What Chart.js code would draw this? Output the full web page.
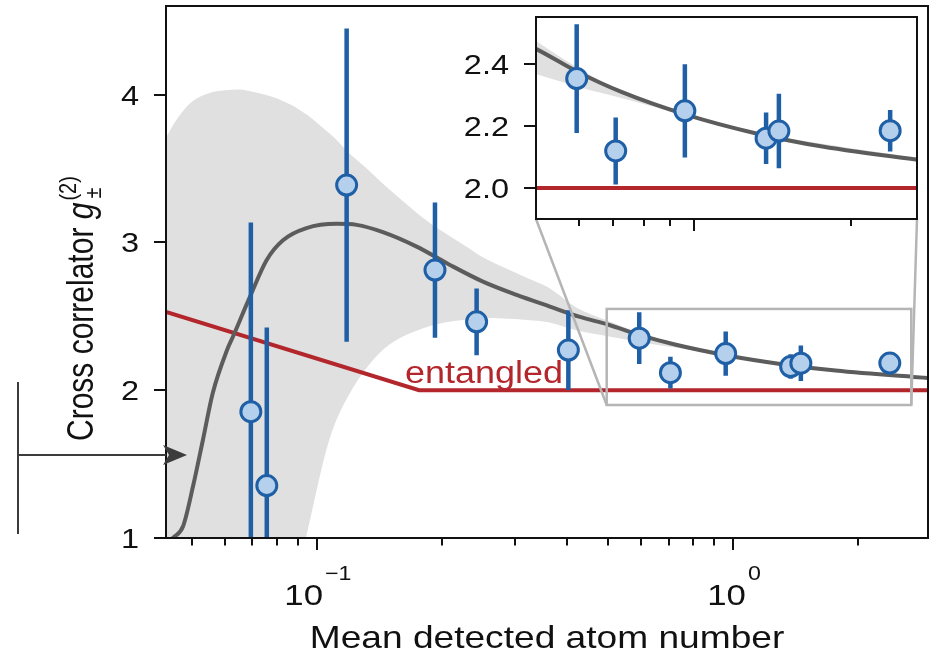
<!DOCTYPE html>
<html>
<head>
<meta charset="utf-8">
<script src="https://cdn.jsdelivr.net/npm/chart.js@4.4.1/dist/chart.umd.min.js"></script>
<style>
  html, body { margin: 0; padding: 0; background: #fff; }
  #wrap { position: relative; width: 936px; height: 658px; overflow: hidden; }
  #main { position: absolute; left: 0; top: 0; width: 936px; height: 658px; }
  #inset { position: absolute; left: 440px; top: 0; width: 490px; height: 240px; }
</style>
</head>
<body>
<div id="wrap">
  <canvas id="main" width="936" height="658"></canvas>
  <canvas id="inset" width="490" height="240"></canvas>
</div>
<script>
// ---------- measured data ----------
const atomNumber   = [0.0694, 0.0758, 0.1179, 0.1922, 0.242, 0.402, 0.595, 0.707, 0.96, 1.375, 1.455, 2.38];
const crossCorr    = [1.855, 1.355, 3.388, 2.813, 2.463, 2.272, 2.352, 2.119, 2.248, 2.16, 2.183, 2.184];
const crossCorrErr = [1.28, 1.07, 1.06, 0.458, 0.226, 0.27, 0.175, 0.108, 0.15, 0.083, 0.12, 0.067];

// ---------- model curve ----------
const theoryX = [0.0434, 0.0455, 0.0477, 0.0504, 0.0532, 0.0562, 0.0608, 0.0628, 0.069, 0.0757, 0.0829, 0.0944,
                 0.1115, 0.1246, 0.1441, 0.1737, 0.2088, 0.2506, 0.302, 0.363, 0.4286, 0.5, 0.598, 0.725,
                 0.968, 1.311, 1.763, 2.71, 2.94];
const theoryY = [0.97, 1.01, 1.08, 1.35, 1.66, 1.98, 2.27, 2.36, 2.63, 2.88, 3.015, 3.097,
                 3.126, 3.119, 3.07, 2.972, 2.848, 2.735, 2.645, 2.566, 2.496, 2.445, 2.373, 2.309,
                 2.235, 2.176, 2.133, 2.09, 2.083];

// ---------- model uncertainty band ----------
const bandX     = [0.0434, 0.046, 0.05, 0.055, 0.06, 0.065, 0.07, 0.08, 0.09, 0.095, 0.1, 0.105, 0.11, 0.12, 0.13,
                   0.145, 0.16, 0.18, 0.2, 0.225, 0.25, 0.28, 0.32, 0.36, 0.42, 0.5, 0.6, 0.75, 1.0, 1.4, 2.0, 2.94];
const bandUpper = [3.71, 3.83, 3.95, 4.01, 4.03, 4.035, 4.02, 3.975, 3.905, 3.86, 3.81, 3.76, 3.71, 3.60, 3.515,
                   3.39, 3.286, 3.166, 3.076, 2.985, 2.902, 2.833, 2.76, 2.695, 2.56, 2.47, 2.385, 2.298, 2.232, 2.17, 2.128, 2.088];
const bandLower = [-1.0, -1.0, -0.8, -0.6, -0.4, -0.2, 0.0, 0.3, 0.78, 1.05, 1.33, 1.58, 1.76, 1.98, 2.13,
                   2.28, 2.36, 2.42, 2.455, 2.475, 2.488, 2.485, 2.476, 2.46, 2.405, 2.365, 2.325, 2.283, 2.225, 2.165, 2.124, 2.082];

// ---------- entanglement bound ----------
const boundX = [0.0434, 0.176, 2.94];
const boundY = [2.53, 2.0, 2.0];
const boundLabel = 'entangled';
const boundLabelAt = [0.252, 2.0];

// ---------- axes ----------
const xRange = [0.0434, 2.94];
const yRange = [1, 4.6];
const yTicks = [1, 2, 3, 4];
const xMajorTicks = [0.1, 1];
const xMajorExponents = ['\u22121', '0'];
const xMinorTicks = [0.05, 0.06, 0.07, 0.08, 0.09, 0.2, 0.3, 0.4, 0.5, 0.6, 0.7, 0.8, 0.9, 2];
const xTitle = 'Mean detected atom number';
const arrowLevel = 1.56;

// ---------- zoomed inset ----------
const insetXRange = [0.497, 2.68];
const insetYRange = [1.9, 2.55];
const insetYTicks = [2.0, 2.2, 2.4];
const insetXMajorTicks = [1];
const insetXMinorTicks = [0.6, 0.7, 0.8, 0.9, 2];

// ---------- styling ----------
const FONT = '"Liberation Sans", Arial, Helvetica, sans-serif';
const TEXT_SX = 1.16;
const BLUE = '#1f5fa6';
const BLUE_FILL = '#b4d0ec';
const RED = '#b3262c';
const CURVE = '#5c5c5c';
const BAND = '#e0e0e0';
const INSET_LEFT = 440, INSET_TOP = 0;

const pts = (xs, ys) => xs.map((x, i) => ({ x, y: ys[i] }));
function errorSegments() {
  const out = [];
  atomNumber.forEach((x, i) => {
    out.push({ x, y: crossCorr[i] - crossCorrErr[i] });
    out.push({ x, y: crossCorr[i] + crossCorrErr[i] });
    out.push({ x, y: null });
  });
  return out;
}

function buildDatasets() {
  // first dataset is drawn on top
  return [
    { data: pts(atomNumber, crossCorr), showLine: false, pointRadius: 10, pointBorderWidth: 3,
      pointBackgroundColor: BLUE_FILL, pointBorderColor: BLUE, pointHoverRadius: 10 },
    { data: errorSegments(), borderColor: BLUE, borderWidth: 4.5, pointRadius: 0, spanGaps: false,
      borderCapStyle: 'butt', tension: 0 },
    { data: pts(theoryX, theoryY), borderColor: CURVE, borderWidth: 4, pointRadius: 0,
      cubicInterpolationMode: 'monotone' },
    { data: pts(boundX, boundY), borderColor: RED, borderWidth: 4, pointRadius: 0, tension: 0 },
    { data: pts(bandX, bandUpper), borderWidth: 0, borderColor: 'rgba(0,0,0,0)', pointRadius: 0,
      fill: '+1', backgroundColor: BAND, cubicInterpolationMode: 'monotone' },
    { data: pts(bandX, bandLower), borderWidth: 0, borderColor: 'rgba(0,0,0,0)', pointRadius: 0,
      fill: false, cubicInterpolationMode: 'monotone' }
  ];
}

function sText(ctx, str, x, y, size, align, color) {
  ctx.save();
  ctx.font = `${size}px ${FONT}`;
  ctx.fillStyle = color || '#111';
  ctx.textBaseline = 'alphabetic';
  ctx.textAlign = 'left';
  const w = ctx.measureText(str).width * TEXT_SX;
  let x0 = x;
  if (align === 'center') x0 = x - w / 2;
  else if (align === 'right') x0 = x - w;
  ctx.translate(x0, y);
  ctx.scale(TEXT_SX, 1);
  ctx.fillText(str, 0, 0);
  ctx.restore();
  return w;
}
function textWidth(ctx, str, size) {
  ctx.save();
  ctx.font = `${size}px ${FONT}`;
  const w = ctx.measureText(str).width * TEXT_SX;
  ctx.restore();
  return w;
}

function baseOptions(pad, xr, yr, xh, yw) {
  return {
    responsive: false, animation: false, devicePixelRatio: 1, events: [],
    layout: { padding: pad, autoPadding: false },
    plugins: { legend: { display: false }, tooltip: { enabled: false } },
    scales: {
      x: { type: 'logarithmic', min: xr[0], max: xr[1],
           ticks: { display: false }, grid: { display: false }, border: { display: false },
           afterFit: s => { s.height = xh; } },
      y: { type: 'linear', min: yr[0], max: yr[1],
           ticks: { display: false }, grid: { display: false }, border: { display: false },
           afterFit: s => { s.width = yw; } }
    }
  };
}

// ---------- inset chart ----------
const insetDecor = {
  id: 'insetDecor',
  beforeDraw(chart) {
    const { ctx, chartArea: a } = chart;
    ctx.save();
    ctx.fillStyle = '#fff';
    ctx.fillRect(a.left, a.top, a.width, a.height);
    ctx.restore();
  },
  afterDraw(chart) {
    const { ctx, chartArea: a, scales: { x, y } } = chart;
    ctx.save();
    ctx.strokeStyle = '#111';
    ctx.lineWidth = 2;
    ctx.strokeRect(a.left, a.top, a.width, a.height);
    ctx.beginPath();
    insetYTicks.forEach(v => {
      const py = Math.round(y.getPixelForValue(v));
      ctx.moveTo(a.left - 12, py); ctx.lineTo(a.left, py);
    });
    insetXMajorTicks.forEach(v => {
      const px = Math.round(x.getPixelForValue(v));
      ctx.moveTo(px, a.bottom); ctx.lineTo(px, a.bottom + 12);
    });
    insetXMinorTicks.forEach(v => {
      const px = Math.round(x.getPixelForValue(v));
      ctx.moveTo(px, a.bottom); ctx.lineTo(px, a.bottom + 7);
    });
    ctx.stroke();
    insetYTicks.forEach(v => {
      const py = y.getPixelForValue(v);
      sText(ctx, v.toFixed(1), a.left - 27, py + 10, 28, 'right');
    });
    ctx.restore();
  }
};

const insetChart = new Chart(document.getElementById('inset'), {
  type: 'line',
  data: { datasets: buildDatasets() },
  options: baseOptions({ left: 0, top: 17, right: 13, bottom: 0 }, insetXRange, insetYRange, 21, 96),
  plugins: [insetDecor]
});

// ---------- main chart ----------
function drawYTitle(ctx, px, py) {
  ctx.save();
  ctx.translate(px, py);
  ctx.scale(1.2, 1);
  ctx.rotate(-Math.PI / 2);
  ctx.fillStyle = '#111';
  ctx.textBaseline = 'alphabetic';
  ctx.textAlign = 'left';
  ctx.font = `30px ${FONT}`;
  const head = 'Cross correlator ';
  ctx.fillText(head, 0, 0);
  let cx = ctx.measureText(head).width;
  ctx.font = `italic 30px ${FONT}`;
  ctx.fillText('g', cx, 0);
  cx += ctx.measureText('g').width + 2;
  ctx.font = `20px ${FONT}`;
  ctx.fillText('(2)', cx, -14);
  ctx.fillText('\u00b1', cx + 2, 7);
  ctx.restore();
}

const mainDecor = {
  id: 'mainDecor',
  afterDatasetsDraw(chart) {
    const { ctx, scales: { x, y } } = chart;
    sText(ctx, boundLabel, x.getPixelForValue(boundLabelAt[0]), y.getPixelForValue(boundLabelAt[1]) - 7, 31, 'center', RED);
  },
  afterDraw(chart) {
    const { ctx, chartArea: a, scales: { x, y } } = chart;
    ctx.save();
    // frame
    ctx.strokeStyle = '#111';
    ctx.lineWidth = 2;
    ctx.strokeRect(a.left, a.top, a.width, a.height);
    // ticks
    ctx.beginPath();
    yTicks.forEach(v => {
      const py = Math.round(y.getPixelForValue(v));
      ctx.moveTo(a.left - 12, py); ctx.lineTo(a.left, py);
    });
    xMajorTicks.forEach(v => {
      const px = Math.round(x.getPixelForValue(v));
      ctx.moveTo(px, a.bottom); ctx.lineTo(px, a.bottom + 12);
    });
    xMinorTicks.forEach(v => {
      const px = Math.round(x.getPixelForValue(v));
      ctx.moveTo(px, a.bottom); ctx.lineTo(px, a.bottom + 7.5);
    });
    ctx.stroke();
    // tick labels
    yTicks.forEach(v => sText(ctx, String(v), a.left - 27, y.getPixelForValue(v) + 10, 28, 'right'));
    xMajorTicks.forEach((v, i) => {
      const px = x.getPixelForValue(v);
      const wb = textWidth(ctx, '10', 30), ws = textWidth(ctx, xMajorExponents[i], 20);
      const x0 = px - (wb + ws) / 2;
      sText(ctx, '10', x0, a.bottom + 67, 30, 'left');
      sText(ctx, xMajorExponents[i], x0 + wb + 2, a.bottom + 42, 20, 'left');
    });
    // axis titles
    sText(ctx, xTitle, (a.left + a.right) / 2, a.bottom + 110, 32, 'center');
    drawYTitle(ctx, 93, 441);

    // zoom box and connectors to the inset
    const bx0 = x.getPixelForValue(insetXRange[0]), bx1 = x.getPixelForValue(insetXRange[1]);
    const by0 = y.getPixelForValue(insetYRange[0]), by1 = y.getPixelForValue(insetYRange[1]);
    ctx.strokeStyle = '#b5b5b5';
    ctx.lineWidth = 2.5;
    ctx.strokeRect(bx0, by1, bx1 - bx0, by0 - by1);
    const ia = insetChart.chartArea;
    ctx.beginPath();
    ctx.moveTo(bx0, by0); ctx.lineTo(ia.left + INSET_LEFT, ia.bottom + INSET_TOP);
    ctx.moveTo(bx1, by0); ctx.lineTo(ia.right + INSET_LEFT, ia.bottom + INSET_TOP);
    ctx.stroke();

    // side marker arrow
    const ay = Math.round(y.getPixelForValue(arrowLevel));
    ctx.strokeStyle = '#3c3c3c';
    ctx.fillStyle = '#3c3c3c';
    ctx.lineWidth = 2;
    ctx.beginPath();
    ctx.moveTo(18, ay); ctx.lineTo(a.left, ay);
    ctx.moveTo(18, ay - 73); ctx.lineTo(18, ay + 79);
    ctx.stroke();
    ctx.beginPath();
    ctx.moveTo(a.left + 21, ay);
    ctx.lineTo(a.left - 3, ay - 10);
    ctx.lineTo(a.left + 3, ay);
    ctx.lineTo(a.left - 3, ay + 10);
    ctx.closePath();
    ctx.fill();
    ctx.restore();
  }
};

new Chart(document.getElementById('main'), {
  type: 'line',
  data: { datasets: buildDatasets() },
  options: baseOptions({ left: 0, top: 6, right: 8, bottom: 0 }, xRange, yRange, 120, 166),
  plugins: [mainDecor]
});
</script>
</body>
</html>
